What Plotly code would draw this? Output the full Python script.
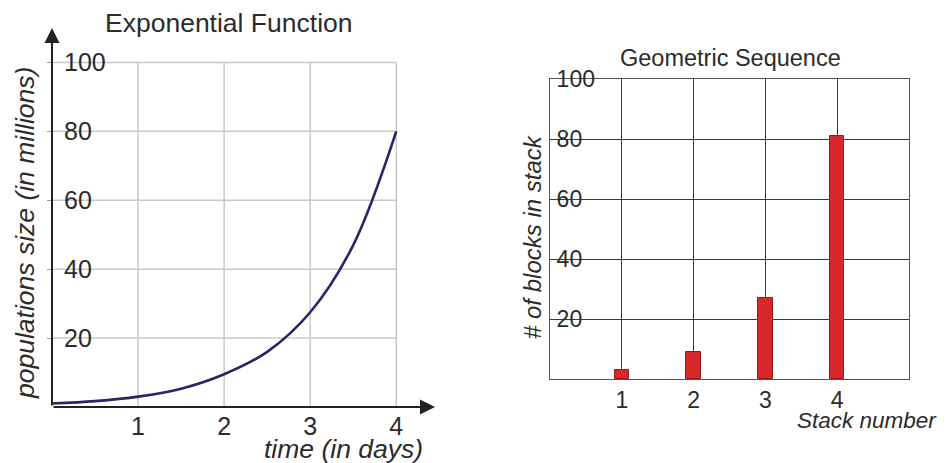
import plotly.graph_objects as go

# ---- data ----
days = [0, 0.5, 1, 1.5, 2, 2.5, 3, 3.5, 4]
population = [1, 1.7, 3, 5.3, 9.5, 16, 27.5, 47, 80]
left_xticks = [1, 2, 3, 4]
left_yticks = [20, 40, 60, 80, 100]

stacks = [1, 2, 3, 4]
blocks = [3, 9, 27, 81]
right_yticks = [20, 40, 60, 80, 100]

# page has default 8px body margin -> figure drawn at offset (8, 8)
W, H = 947, 463
OFF = 8
FW, FH = W - OFF, H - OFF


def fx(x):
    return (x - OFF) / FW


def fy(y):
    return (H - y) / FH


FONT = "Liberation Sans, Arial, sans-serif"
TXT = "#2b2b2b"

fig = go.Figure()

fig.add_trace(go.Scatter(
    x=days, y=population, mode="lines", line=dict(color="#2a2463", width=2.6, shape="spline"),
    xaxis="x", yaxis="y", showlegend=False, hoverinfo="skip"))

fig.add_trace(go.Bar(
    x=stacks, y=blocks, width=0.2, marker=dict(color="#d8282b", line=dict(color="#9a1a1a", width=1)),
    xaxis="x2", yaxis="y2", showlegend=False))

# left grid as shapes (stops at x=4 / y=100)
shapes = []
for v in left_xticks:
    shapes.append(dict(type="line", xref="x", yref="y", x0=v, x1=v, y0=0, y1=max(left_yticks),
                       line=dict(color="#c8c8c8", width=1.5), layer="below"))
for v in left_yticks:
    shapes.append(dict(type="line", xref="x", yref="y", x0=0, x1=max(left_xticks), y0=v, y1=v,
                       line=dict(color="#c8c8c8", width=1.5), layer="below"))

fig.update_layout(
    width=FW, height=FH, margin=dict(l=0, r=0, t=0, b=0, autoexpand=False),
    paper_bgcolor="white", plot_bgcolor="white",
    font=dict(family=FONT, color=TXT),
    bargap=0,
    xaxis=dict(domain=[fx(52), fx(435)], range=[0, 4.45], tickvals=left_xticks, automargin=False,
               showgrid=False, zeroline=False, showline=False, ticks="",
               tickfont=dict(size=25, color=TXT), ticklabelstandoff=2, fixedrange=True),
    yaxis=dict(domain=[fy(407), fy(28)], range=[0, 110], tickvals=left_yticks, automargin=False,
               showgrid=False, zeroline=False, showline=False, ticks="outside", ticklen=4,
               tickcolor="#999", ticklabelposition="inside", ticklabelstandoff=9,
               ticklabeloverflow="allow",
               tickfont=dict(size=25, color=TXT), fixedrange=True),
    xaxis2=dict(domain=[fx(550), fx(909)], range=[0, 5], tickvals=stacks, anchor="y2", automargin=False,
                showgrid=True, gridcolor="#3a3a3a", gridwidth=1.4, zeroline=False,
                showline=True, mirror=True, linecolor="#555", linewidth=1.4, ticks="",
                tickfont=dict(size=23, color=TXT), ticklabelstandoff=0, fixedrange=True),
    yaxis2=dict(domain=[fy(379), fy(79)], range=[0, 100], tickvals=right_yticks, anchor="x2", automargin=False,
                showgrid=True, gridcolor="#3a3a3a", gridwidth=1.4, zeroline=False,
                showline=True, mirror=True, linecolor="#555", linewidth=1.4, ticks="",
                ticklabelposition="inside", ticklabelstandoff=8, ticklabeloverflow="allow",
                tickfont=dict(size=23, color=TXT), fixedrange=True),
    shapes=shapes,
)

ann = []
# axis arrows (left chart)
ann.append(dict(xref="x", yref="y", axref="x", ayref="y", x=4.45, y=0, ax=0, ay=0, text="",
                showarrow=True, arrowhead=2, arrowsize=1.5, arrowwidth=2, arrowcolor="#222"))
ann.append(dict(xref="x", yref="y", axref="x", ayref="y", x=0, y=110, ax=0, ay=0, text="",
                showarrow=True, arrowhead=2, arrowsize=1.5, arrowwidth=2, arrowcolor="#222"))


def label(x, y, text, size, italic=False, angle=0):
    f = dict(size=size, color=TXT)
    if italic:
        f["style"] = "italic"
    return dict(xref="paper", yref="paper", x=fx(x), y=fy(y), text=text, showarrow=False,
                xanchor="center", yanchor="middle", textangle=angle, font=f)


ann.append(label(229, 23, "Exponential Function", 26.5))
ann.append(label(25, 233, "populations size (in millions)", 26.5, italic=True, angle=-90))
ann.append(label(343, 449, "time (in days)", 26.5, italic=True))
ann.append(label(730, 58, "Geometric Sequence", 23.5))
ann.append(label(532, 237, "# of blocks in stack", 24, italic=True, angle=-90))
ann.append(label(867, 420, "Stack number", 22.5, italic=True))
fig.update_layout(annotations=ann)

fig.write_html("out.html")
